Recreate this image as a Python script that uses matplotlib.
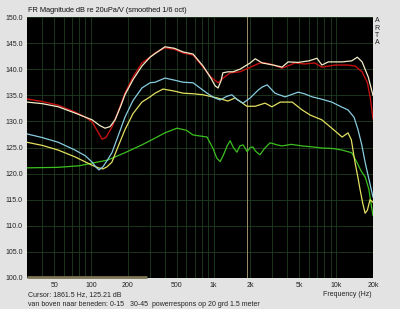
import matplotlib
matplotlib.use("Agg")
import matplotlib.pyplot as plt
from matplotlib.ticker import FixedLocator, NullFormatter

plt.rcParams['font.family'] = ['Liberation Sans', 'DejaVu Sans']

# --- data (Hz, dB) ---
red_f = [30, 40, 54, 74, 90, 102, 115, 123, 132, 148, 165, 189, 220, 260, 303, 333, 401, 480,
         564, 680, 821, 950, 1088, 1200, 1365, 1643, 2094, 2390, 2630, 3100, 3620, 4630, 5500,
         6690, 7650, 9800, 12500, 14300, 16300, 18000, 19000, 20000]
red_db = [134.3, 133.8, 133.1, 131.8, 130.8, 129.9, 127.8, 126.6, 126.9, 128.9, 131.6, 135.4,
          138.5, 141.2, 142.3, 143.1, 144.1, 143.8, 143.1, 142.7, 140.4, 138.5, 137.4, 138.3,
          139.3, 139.5, 140.6, 141.2, 141.2, 140.8, 140.2, 141.2, 141.0, 141.2, 140.4, 140.8,
          140.8, 140.6, 139.5, 137.4, 134.5, 130.5]

cream_f = [30, 40, 54, 74, 102, 118, 130, 143, 157, 175, 189, 220, 260, 303, 333, 401, 480, 564,
           680, 821, 950, 1030, 1088, 1150, 1190, 1310, 1440, 1643, 1990, 2187, 2490, 3060, 3620,
           4060, 4900, 6000, 6980, 7650, 8640, 11200, 13400, 14900, 16300, 18300, 20000]
cream_db = [133.7, 133.4, 132.8, 131.6, 130.3, 129.2, 128.7, 129.0, 130.3, 133.0, 135.1, 138.0,
            140.6, 142.3, 143.0, 144.3, 144.0, 143.3, 142.9, 140.6, 138.3, 136.8, 136.4, 137.8,
            139.3, 139.5, 139.5, 140.0, 141.2, 142.0, 141.2, 140.8, 140.4, 141.4, 141.3, 141.6,
            142.1, 140.8, 141.4, 141.4, 141.6, 142.3, 141.4, 138.5, 135.0]

cyan_f = [30, 40, 54, 74, 90, 102, 110, 116, 125, 136, 148, 165, 189, 220, 260, 303, 333, 401,
          480, 564, 680, 885, 1000, 1130, 1280, 1410, 1550, 1740, 1990, 2310, 2500, 2740, 3170,
          3830, 4900, 5500, 6380, 7500, 9220, 11000, 12500, 14000, 15100, 16200, 17300, 18500,
          20000]
cyan_db = [127.6, 126.9, 126.0, 124.5, 123.4, 122.2, 121.2, 120.7, 121.3, 122.6, 124.0, 127.0,
           130.8, 134.0, 136.4, 137.4, 137.5, 138.3, 137.9, 137.5, 137.4, 135.4, 134.6, 134.1,
           134.8, 135.1, 134.2, 133.5, 134.5, 136.0, 136.6, 137.0, 135.4, 134.7, 135.6, 135.3,
           134.7, 134.3, 133.7, 132.8, 132.2, 130.8, 128.4, 125.5, 122.0, 119.0, 115.5]

yellow_f = [30, 40, 54, 74, 102, 115, 125, 135, 148, 165, 189, 220, 260, 303, 333, 387, 480,
            564, 680, 821, 1070, 1310, 1500, 1870, 2187, 2630, 2990, 3500, 4380, 5280, 6160,
            7650, 9220, 11200, 12500, 13300, 14300, 15000, 15700, 16500, 17250, 18000, 18900,
            20000]
yellow_db = [126.0, 125.4, 124.5, 123.2, 121.6, 121.1, 120.9, 121.3, 122.2, 125.0, 128.4, 131.5,
             133.7, 134.7, 135.4, 136.2, 135.8, 135.4, 135.3, 135.1, 134.5, 133.9, 134.5, 132.9,
             132.9, 133.5, 132.8, 133.7, 133.7, 132.2, 131.2, 130.3, 128.7, 127.0, 127.8, 126.5,
             122.0, 119.5, 116.9, 114.3, 112.4, 113.0, 115.0, 114.5]

green_f = [30, 54, 80, 102, 137, 189, 260, 333, 400, 503, 600, 680, 885, 990, 1060, 1130, 1200,
           1290, 1365, 1450, 1550, 1640, 1740, 1880, 1990, 2094, 2200, 2390, 2600, 2890, 3300,
           3620, 4300, 5280, 6500, 7650, 9500, 11200, 13400, 14900, 16000, 17300, 18500, 19500,
           20000]
green_db = [121.1, 121.2, 121.5, 122.0, 122.6, 124.0, 125.5, 126.8, 127.8, 128.7, 128.3, 127.4,
            127.0, 124.8, 123.0, 122.3, 123.5, 125.3, 126.3, 125.0, 124.1, 125.3, 125.5, 124.2,
            125.0, 125.1, 124.3, 123.6, 124.8, 125.9, 125.5, 125.3, 125.6, 125.3, 125.1, 124.9,
            124.8, 124.5, 124.0, 122.0, 120.5, 119.3, 117.0, 113.5, 112.0]

x_ticks = [50, 100, 200, 500, 1000, 2000, 5000, 10000, 20000]
x_labels = ['50', '100', '200', '500', '1k', '2k', '5k', '10k', '20k']
y_ticks = [100, 105, 110, 115, 120, 125, 130, 135, 140, 145, 150]
cursor_hz = 1861.5

# --- figure ---
fig = plt.figure(figsize=(4.0, 3.09), dpi=100, facecolor='#e3e3e3')
ax = fig.add_axes([27 / 400, 1 - 278 / 309, 346 / 400, 261 / 309])
ax.set_facecolor('black')
ax.set_xscale('log')
ax.set_xlim(30, 20000)
ax.set_ylim(100, 150)

# grid lines: every 1-9 step per decade, every 5 dB
grid_f = [m * 10 ** d for d in range(1, 5) for m in range(1, 10) if 30 < m * 10 ** d < 20000]
ax.xaxis.set_major_locator(FixedLocator(x_ticks))
ax.xaxis.set_minor_locator(FixedLocator(grid_f))
ax.xaxis.set_minor_formatter(NullFormatter())
ax.set_xticklabels(x_labels)
ax.set_yticks(y_ticks)
ax.set_yticklabels(['%.1f' % v for v in y_ticks])
ax.grid(True, which='both', color='#1e3c1e', lw=0.6)
ax.tick_params(which='both', length=0, labelsize=5, pad=3, colors='#222222')
for s in ax.spines.values():
    s.set_visible(False)

ax.axvline(cursor_hz, color='#9c9068', lw=0.7)
ax.plot([0, 0.347], [0.004, 0.004], transform=ax.transAxes, color='#7c7452', lw=2,
        solid_capstyle='butt', clip_on=False)

ax.plot(green_f, green_db, color='#3cc020', lw=0.9)
ax.plot(yellow_f, yellow_db, color='#e2e060', lw=0.9)
ax.plot(cyan_f, cyan_db, color='#88cce0', lw=0.9)
ax.plot(red_f, red_db, color='#c41010', lw=1.0)
ax.plot(cream_f, cream_db, color='#f2ecc8', lw=0.9)

# --- texts around the plot ---
fig.text(28 / 400, 1 - 10 / 309, 'FR Magnitude dB re 20uPa/V (smoothed 1/6 oct)',
         fontsize=5.3, va='center', ha='left', color='#111111')
for i, ch in enumerate('ARTA'):
    fig.text(377 / 400, 1 - (21 + i * 7.3) / 309, ch, fontsize=5, ha='center', va='center',
             color='#222222')
fig.text(28 / 400, 1 - 295 / 309, 'Cursor: 1861.5 Hz, 125.21 dB', fontsize=5, va='center',
         color='#222222')
fig.text(28 / 400, 1 - 304 / 309,
         'van boven naar beneden: 0-15   30-45  powerrespons op 20 grd 1.5 meter',
         fontsize=5, va='center', color='#222222')
fig.text(372 / 400, 1 - 295 / 309, 'Frequency (Hz)', fontsize=5, va='center', ha='right',
         color='#222222')

fig.savefig('out.png', dpi=100, facecolor=fig.get_facecolor())
